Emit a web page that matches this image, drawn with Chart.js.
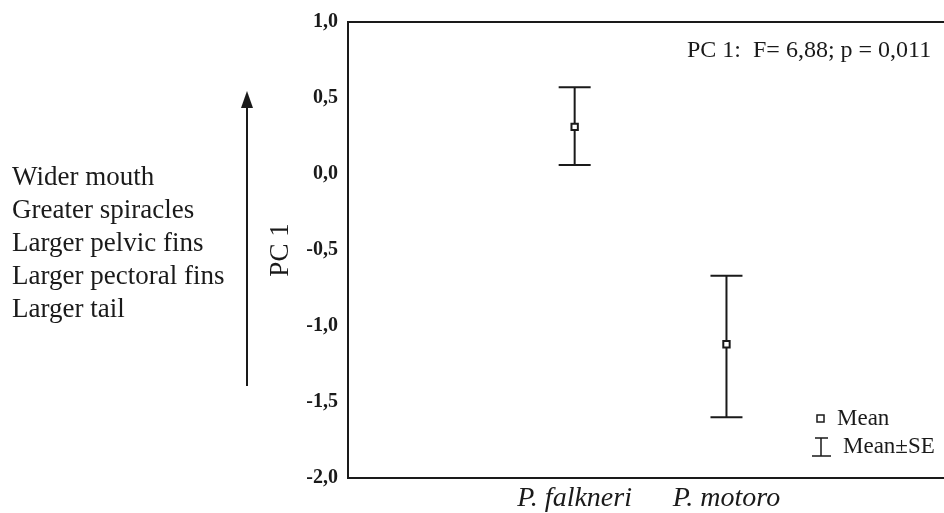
<!DOCTYPE html>
<html>
<head>
<meta charset="utf-8">
<script src="https://cdn.jsdelivr.net/npm/chart.js@4"></script>
<style>
  html, body { margin: 0; padding: 0; background: #fff; }
  #wrap { width: 944px; height: 513px; }
</style>
</head>
<body>
<div id="wrap"><canvas id="pcChart" width="944" height="513"></canvas></div>
<script>
// PC 1 means with standard errors for the two species
const categories = ['P. falkneri', 'P. motoro'];
const means = [0.31, -1.12];
const seUpper = [0.57, -0.67];
const seLower = [0.06, -1.60];
const yTicks = [-2, -1.5, -1, -0.5, 0, 0.5, 1];
const traits = ['Wider mouth', 'Greater spiracles', 'Larger pelvic fins', 'Larger pectoral fins', 'Larger tail'];
const statText = 'PC 1:  F= 6,88; p = 0,011';

const ink = '#1a1a1a';
const serif = 'Liberation Serif, Times New Roman, serif';

// error bars drawn under the mean markers
const errorBars = {
    id: 'errorBars',
    beforeDatasetsDraw(chart) {
        const { ctx, scales: { x, y } } = chart;
        ctx.save();
        ctx.strokeStyle = ink;
        ctx.lineWidth = 2;
        categories.forEach((c, i) => {
            const px = x.getPixelForValue(i + 1);
            const top = y.getPixelForValue(seUpper[i]);
            const bot = y.getPixelForValue(seLower[i]);
            ctx.beginPath();
            ctx.moveTo(px, top); ctx.lineTo(px, bot);
            ctx.moveTo(px - 16, top); ctx.lineTo(px + 16, top);
            ctx.moveTo(px - 16, bot); ctx.lineTo(px + 16, bot);
            ctx.stroke();
        });
        ctx.restore();
    }
};

// frame lines, side notes, arrow, stats text and legend
const extras = {
    id: 'extras',
    afterDraw(chart) {
        const { ctx, chartArea: a } = chart;
        ctx.save();
        ctx.strokeStyle = ink;
        ctx.fillStyle = ink;
        ctx.lineWidth = 2;
        ctx.beginPath();
        ctx.moveTo(a.left - 1, a.top); ctx.lineTo(chart.width, a.top);
        ctx.moveTo(a.right - 2, a.bottom); ctx.lineTo(chart.width, a.bottom);
        ctx.stroke();

        // trait list
        ctx.font = '27px ' + serif;
        ctx.textAlign = 'left';
        ctx.textBaseline = 'middle';
        traits.forEach((t, i) => ctx.fillText(t, 12, 178 + i * 33));

        // arrow
        ctx.beginPath();
        ctx.moveTo(247, 386); ctx.lineTo(247, 104);
        ctx.stroke();
        ctx.beginPath();
        ctx.moveTo(247, 91); ctx.lineTo(241, 108); ctx.lineTo(253, 108);
        ctx.closePath();
        ctx.fill();

        // y title
        ctx.save();
        ctx.translate(281, 250);
        ctx.rotate(-Math.PI / 2);
        ctx.textAlign = 'center';
        ctx.font = '27px ' + serif;
        ctx.fillText('PC 1', 0, 0);
        ctx.restore();

        // stats
        ctx.font = '24px ' + serif;
        ctx.fillText(statText, 687, 51);

        // legend
        ctx.font = '23px ' + serif;
        ctx.lineWidth = 1.5;
        ctx.fillStyle = '#fff';
        ctx.fillRect(817, 415, 7, 7);
        ctx.strokeRect(817, 415, 7, 7);
        ctx.fillStyle = ink;
        ctx.fillText('Mean', 837, 419);
        ctx.beginPath();
        ctx.moveTo(815, 438); ctx.lineTo(828, 438);
        ctx.moveTo(821, 438); ctx.lineTo(821, 456);
        ctx.moveTo(812, 456); ctx.lineTo(831, 456);
        ctx.stroke();
        ctx.fillText('Mean\u00b1SE', 843, 447);
        ctx.restore();
    }
};

new Chart(document.getElementById('pcChart').getContext('2d'), {
    type: 'scatter',
    data: {
        datasets: [{
            label: 'Mean',
            data: categories.map((c, i) => ({ x: i + 1, y: means[i] })),
            pointStyle: 'rect',
            pointRadius: 4.5,
            pointBackgroundColor: '#fff',
            pointBorderColor: ink,
            pointBorderWidth: 2
        }]
    },
    options: {
        responsive: false,
        animation: false,
        layout: { padding: { top: 22, right: 0, left: 0, bottom: 0 } },
        plugins: { legend: { display: false }, tooltip: { enabled: false } },
        scales: {
            x: {
                type: 'linear',
                min: -0.493,
                max: 3.39,
                grid: { display: false, drawTicks: false },
                border: { color: ink, width: 2 },
                afterBuildTicks: s => { s.ticks = categories.map((c, i) => ({ value: i + 1 })); },
                afterFit: s => { s.height = 35; },
                ticks: {
                    padding: 4,
                    color: ink,
                    font: { family: serif, size: 28, style: 'italic' },
                    callback: (v) => categories[v - 1]
                }
            },
            y: {
                min: -2,
                max: 1,
                grid: { display: false, drawTicks: false },
                border: { color: ink, width: 2 },
                afterBuildTicks: s => { s.ticks = yTicks.map(v => ({ value: v })); },
                afterFit: s => { s.width = 348; },
                ticks: {
                    padding: 10,
                    color: ink,
                    font: { family: serif, size: 20, weight: 'bold' },
                    callback: v => v.toFixed(1).replace('.', ',')
                }
            }
        }
    },
    plugins: [errorBars, extras]
});
</script>
</body>
</html>
